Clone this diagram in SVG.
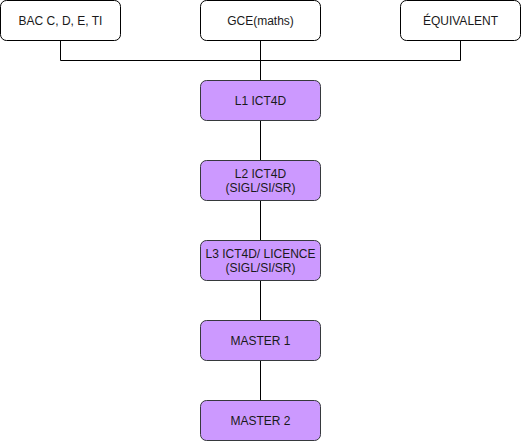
<svg xmlns="http://www.w3.org/2000/svg" width="521" height="441" viewBox="0 0 521 441">
<style>
.w{fill:#ffffff;stroke:#000000;stroke-width:1}
.p{fill:#cc99ff;stroke:#36393d;stroke-width:1}
.t{font-family:"Liberation Sans",Arial,sans-serif;font-size:12px;fill:#1a1a1a;text-anchor:middle}
.c{fill:none;stroke:#000000;stroke-width:1}
</style>
<rect width="521" height="441" fill="#ffffff"/>
<g id="connectors">
<path class="c" d="M60.5 40.5 V60.5 H460.5 V40.5"/>
<path class="c" d="M260.5 40.5 V80.5"/>
<path class="c" d="M260.5 120.5 V160.5"/>
<path class="c" d="M260.5 200.5 V240.5"/>
<path class="c" d="M260.5 280.5 V320.5"/>
<path class="c" d="M260.5 360.5 V400.5"/>
</g>
<g id="bac"><rect class="w" x="0.5" y="0.5" width="120" height="40" rx="6"/><text class="t" x="60.5" y="24.5">BAC C, D, E, TI</text></g>
<g id="gce"><rect class="w" x="200.5" y="0.5" width="120" height="40" rx="6"/><text class="t" x="260.5" y="24.5">GCE(maths)</text></g>
<g id="equiv"><rect class="w" x="400.5" y="0.5" width="120" height="40" rx="6"/><text class="t" x="460.5" y="24.5">ÉQUIVALENT</text></g>
<g id="l1"><rect class="p" x="200.5" y="80.5" width="120" height="40" rx="6"/><text class="t" x="260.5" y="104.5">L1 ICT4D</text></g>
<g id="l2"><rect class="p" x="200.5" y="160.5" width="120" height="40" rx="6"/><text class="t" x="260.5" y="178">L2 ICT4D</text><text class="t" x="260.5" y="192">(SIGL/SI/SR)</text></g>
<g id="l3"><rect class="p" x="200.5" y="240.5" width="120" height="40" rx="6"/><text class="t" x="260.5" y="258">L3 ICT4D/ LICENCE</text><text class="t" x="260.5" y="272">(SIGL/SI/SR)</text></g>
<g id="m1"><rect class="p" x="200.5" y="320.5" width="120" height="40" rx="6"/><text class="t" x="260.5" y="344.5">MASTER 1</text></g>
<g id="m2"><rect class="p" x="200.5" y="400.5" width="120" height="40" rx="6"/><text class="t" x="260.5" y="424.5">MASTER 2</text></g>
</svg>
